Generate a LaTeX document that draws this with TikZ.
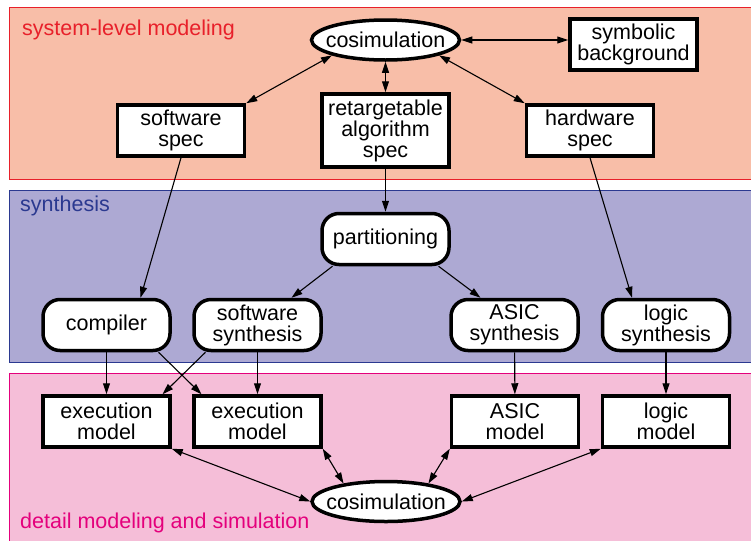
\documentclass[tikz,border=0pt]{standalone}
\usepackage{fontspec}
\setmainfont{Liberation Sans}
\usetikzlibrary{shapes.geometric,arrows.meta}
\definecolor{sysfill}{RGB}{248,190,168}
\definecolor{sysline}{RGB}{232,32,42}
\definecolor{synfill}{RGB}{173,169,211}
\definecolor{synline}{RGB}{43,57,144}
\definecolor{detfill}{RGB}{245,190,216}
\definecolor{detline}{RGB}{228,0,124}
\tikzset{
  txt/.style={font=\fontsize{21.5}{21}\selectfont},
  blk/.style={txt, draw, line width=3.5pt, fill=white, minimum width=127pt, minimum height=51pt, inner sep=0pt, align=center},
  rblk/.style={blk, rounded corners=17pt},
  sim/.style={txt, draw, ellipse, line width=3.5pt, fill=white, minimum width=148pt, minimum height=40pt, inner xsep=-9pt, inner ysep=0pt},
  con/.style={line width=1.1pt, -{Triangle[length=11pt,width=7pt]}},
  bicon/.style={line width=1.1pt, {Triangle[length=11pt,width=7pt]}-{Triangle[length=11pt,width=7pt]}},
  lbl/.style={txt, anchor=base west, inner sep=0pt}
}
\begin{document}
\begin{tikzpicture}[x=1pt,y=-1pt]
\useasboundingbox (0,0) rectangle (751,541);

\fill[sysfill] (9,7) rectangle (751,179);
\draw[sysline, line width=0.8pt] (751,7) -- (9,7) -- (9,179) -- (751,179);
\node[lbl, sysline] (syslbl) at (22,35) {system-level modeling};

\fill[synfill] (9,190) rectangle (751,362);
\draw[synline, line width=0.8pt] (751,190) -- (9,190) -- (9,362) -- (751,362);
\node[lbl, synline] (synlbl) at (20,211) {synthesis};

\fill[detfill] (9,373) rectangle (751,541);
\draw[detline, line width=0.8pt] (751,373) -- (9,373) -- (9,541);
\node[lbl, detline] (detlbl) at (20,528) {detail modeling and simulation};

\node[sim] (cosimA) at (385.5,40) {cosimulation};
\node[blk] (symb) at (633.5,44.5) {symbolic\\background};
\node[blk] (swspec) at (181,130.5) {software\\spec};
\node[blk, minimum height=73pt] (retarg) at (385.5,130.5) {retargetable\\algorithm\\spec};
\node[blk] (hwspec) at (590,130.5) {hardware\\spec};

\node[rblk] (partit) at (385.5,239) {partitioning};
\node[rblk] (compiler) at (106.5,325) {compiler};
\node[rblk] (swsyn) at (257.5,325) {software\\synthesis};
\node[rblk] (asicsyn) at (514.5,325) {ASIC\\synthesis};
\node[rblk] (logicsyn) at (666,325) {logic\\synthesis};

\node[blk] (exmodA) at (106.5,421.5) {execution\\model};
\node[blk] (exmodB) at (257.5,421.5) {execution\\model};
\node[blk] (asicmod) at (515,421.5) {ASIC\\model};
\node[blk] (logicmod) at (666,421.5) {logic\\model};
\node[sim] (cosimB) at (386,501.5) {cosimulation};

\draw[bicon] (cosimA.east) -- (symb.west |- cosimA.east);
\draw[bicon] (cosimA.south west) -- (swspec.north east);
\draw[bicon] (cosimA) -- (retarg);
\draw[bicon] (cosimA.south east) -- (hwspec.north west);

\draw[con] (swspec.south) -- ([xshift=34pt]compiler.north);
\draw[con] (retarg) -- (partit);
\draw[con] (hwspec.south) -- ([xshift=-34pt]logicsyn.north);
\draw[con] ([xshift=-53pt]partit.south) -- ([xshift=34pt]swsyn.north);
\draw[con] ([xshift=53pt]partit.south) -- ([xshift=-34pt]asicsyn.north);

\draw[con] (compiler) -- (exmodA);
\draw[con] ([xshift=52pt]compiler.south) -- ([xshift=-56pt]exmodB.north);
\draw[con] ([xshift=-52pt]swsyn.south) -- ([xshift=56pt]exmodA.north);
\draw[con] (swsyn) -- (exmodB);
\draw[con] (asicsyn) -- (asicmod);
\draw[con] (logicsyn) -- (logicmod);

\draw[bicon] (exmodA.south east) -- (cosimB.west);
\draw[bicon] (exmodB.south east) -- (cosimB.157);
\draw[bicon] (asicmod.south west) -- (cosimB.23);
\draw[bicon] (logicmod.south west) -- (cosimB.east);
\end{tikzpicture}
\end{document}
